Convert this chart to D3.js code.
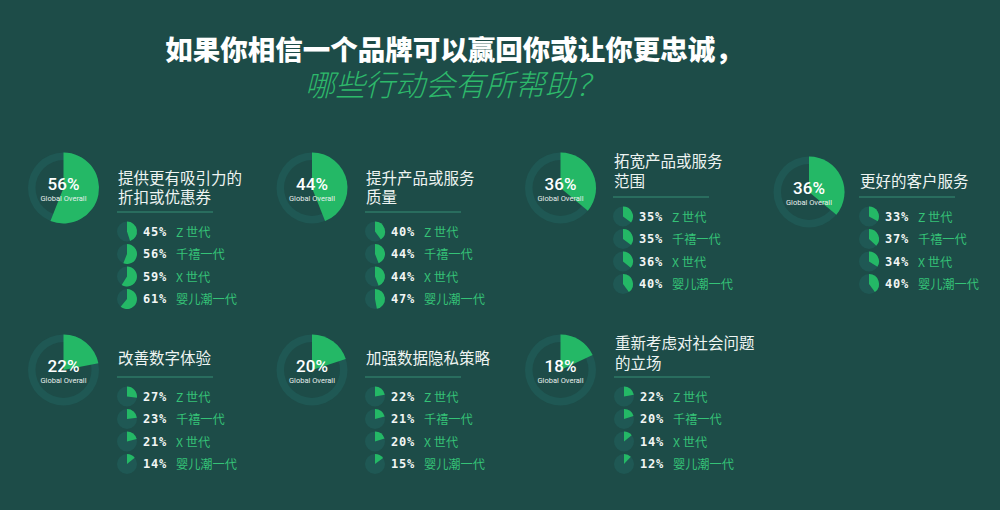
<!DOCTYPE html>
<html><head><meta charset="utf-8">
<script src="https://cdn.jsdelivr.net/npm/d3@7"></script>
<style>
html,body{margin:0;padding:0;background:#1d4c48;}
svg{display:block;}
</style></head>
<body>
<svg id="chart" width="1000" height="510"></svg>
<script>
// ---- data ----
const titleLine1 = "如果你相信一个品牌可以赢回你或让你更忠诚，";
const titleLine2 = "哪些行动会有所帮助？";
const actions = [
  ["提供更有吸引力的","折扣或优惠券"],
  ["提升产品或服务","质量"],
  ["拓宽产品或服务","范围"],
  ["更好的客户服务"],
  ["改善数字体验"],
  ["加强数据隐私策略"],
  ["重新考虑对社会问题","的立场"]
];
const globalOverall = [56, 44, 36, 36, 22, 20, 18];
const generations = ["Z 世代", "千禧一代", "X 世代", "婴儿潮一代"];
const genZ        = [45, 40, 35, 33, 27, 22, 22];
const millennials = [56, 44, 35, 37, 23, 21, 20];
const genX        = [59, 44, 36, 34, 21, 20, 14];
const boomers     = [61, 47, 40, 40, 14, 15, 12];

// ---- layout (positions only) ----
const layout = [
  {cx: 63.5, cy: 188, tx: 118, ty: [177, 195.5], sep: 212},
  {cx: 312,  cy: 188, tx: 366, ty: [177, 195.5], sep: 212},
  {cx: 560.5,cy: 188, tx: 614, ty: [160, 179.5], sep: 197},
  {cx: 809,  cy: 192, tx: 860, ty: [180],        sep: 197},
  {cx: 63.5, cy: 370, tx: 118, ty: [357],        sep: 377},
  {cx: 312,  cy: 370, tx: 366, ty: [357],        sep: 377},
  {cx: 560.5,cy: 370, tx: 615, ty: [342, 361.5], sep: 377}
];
const rowOffsets = [19.5, 42, 64.5, 87];

const GREEN = "#24b866";
const RING = "#1f5854";
const BG = "#1d4c48";
const LABEL_GREEN = "#35c277";

const svg = d3.select("#chart");
svg.append("rect").attr("width",1000).attr("height",510).attr("fill",BG);

const cjk = "'Noto Sans CJK SC','Noto Sans',sans-serif";

svg.append("text").attr("x",454).attr("y",48)
  .attr("text-anchor","middle").attr("dominant-baseline","central")
  .attr("font-family",cjk).attr("font-weight",900).attr("font-size",27.5)
  .attr("fill","#ffffff").text(titleLine1);
svg.append("text").attr("x",455).attr("y",83)
  .attr("text-anchor","middle").attr("dominant-baseline","central")
  .attr("font-family",cjk).attr("font-weight",300).attr("font-style","italic").attr("font-size",30)
  .attr("fill","#2db96b").text(titleLine2);

const pctScale = d3.scaleLinear().domain([0,100]).range([0, 2*Math.PI]);
const bigOuter = 35.5, bigInner = 28, smallR = 10;
const arcRing = d3.arc().innerRadius(bigInner).outerRadius(bigOuter).startAngle(0).endAngle(2*Math.PI);
const arcBig = d3.arc().innerRadius(0).outerRadius(bigOuter).startAngle(0);
const arcSmall = d3.arc().innerRadius(0).outerRadius(smallR).startAngle(0);

const seriesByGen = [genZ, millennials, genX, boomers];

actions.forEach((lines, i) => {
  const L = layout[i];
  const g = svg.append("g");
  // big donut
  const pg = g.append("g").attr("transform",`translate(${L.cx},${L.cy})`);
  pg.append("path").attr("d", arcRing()).attr("fill", RING);
  pg.append("path").attr("d", arcBig({endAngle: pctScale(globalOverall[i])})).attr("fill", GREEN);
  pg.append("text").attr("x",0).attr("y",-4.5).attr("text-anchor","middle").attr("dominant-baseline","central")
    .attr("font-family","Roboto,'Noto Sans',sans-serif").attr("font-weight",500).attr("font-size",17)
    .attr("fill","#ffffff").text(globalOverall[i] + "%");
  pg.append("text").attr("x",0).attr("y",10).attr("text-anchor","middle").attr("dominant-baseline","central")
    .attr("font-family","Roboto,'Noto Sans',sans-serif").attr("font-size",7.5)
    .attr("fill","#e8efed").text("Global Overall");
  // title
  lines.forEach((t, k) => {
    g.append("text").attr("x",L.tx).attr("y",L.ty[k]).attr("dominant-baseline","central")
      .attr("font-family",cjk).attr("font-size",15.5).attr("fill","#eef4f2").text(t);
  });
  // separator
  g.append("line").attr("x1",L.tx-1).attr("x2",L.tx+95).attr("y1",L.sep).attr("y2",L.sep)
    .attr("stroke","#2e7866").attr("stroke-width",1.5);
  // generation rows
  generations.forEach((gen, r) => {
    const y = L.sep + rowOffsets[r];
    const v = seriesByGen[r][i];
    const sg = g.append("g").attr("transform",`translate(${L.tx+9},${y})`);
    sg.append("circle").attr("r",smallR).attr("fill",RING);
    sg.append("path").attr("d",arcSmall({endAngle: pctScale(v)})).attr("fill",GREEN);
    g.append("text").attr("x",L.tx+25).attr("y",y).attr("dominant-baseline","central")
      .attr("font-family","'DejaVu Sans Mono',monospace").attr("font-weight",700).attr("font-size",12)
      .attr("letter-spacing",0.8).attr("fill","#f2f6f5").text(v + "%");
    g.append("text").attr("x",L.tx+58).attr("y",y).attr("dominant-baseline","central")
      .attr("font-family",cjk).attr("font-size",12.2).attr("fill",LABEL_GREEN).text(gen);
  });
});
</script>
</body></html>
